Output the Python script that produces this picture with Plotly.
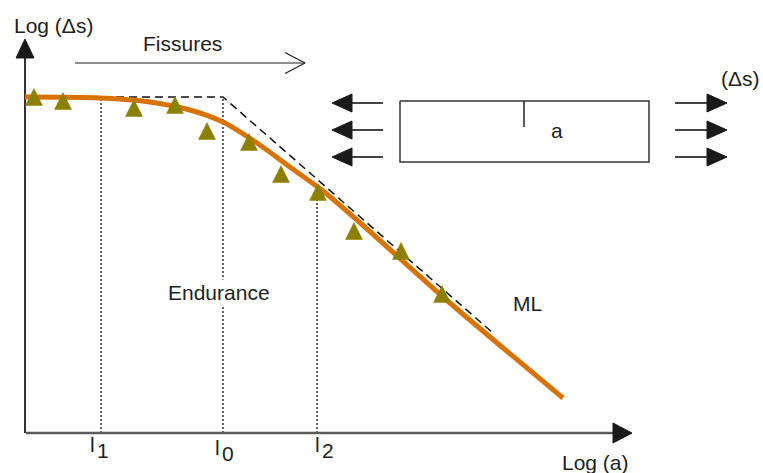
import plotly.graph_objects as go

# Measured points (log crack length, log stress range), arbitrary units
meas_x = [0.09, 0.38, 1.09, 1.50, 1.82, 2.24, 2.56, 2.93, 3.29, 3.76, 4.17]
meas_y = [3.36, 3.32, 3.25, 3.28, 3.02, 2.91, 2.59, 2.41, 2.02, 1.82, 1.39]

# Fitted curve through the data
fit_x = [0.00, 0.75, 1.25, 1.65, 1.98, 2.32, 2.65, 2.98, 3.32, 4.25, 5.38]
fit_y = [3.36, 3.35, 3.31, 3.23, 3.11, 2.90, 2.66, 2.42, 2.13, 1.30, 0.35]

# Asymptotes: endurance plateau and LEFM (ML) line
asym_x = [0.00, 1.98, 4.68]
asym_y = [3.36, 3.36, 1.00]

# Characteristic lengths l1, l0, l2 and the height of their guide lines
l_names = ["1", "0", "2"]
l_pos = [0.76, 1.98, 2.92]
l_top = [3.36, 3.36, 2.41]

X_RANGE = [-0.25, 7.38]
Y_RANGE = [-0.40, 4.33]

INK = "#231f20"
ORANGE = "#d87300"
OLIVE = "#8c8000"
FONT = "Liberation Sans, Arial, sans-serif"

fig = go.Figure()


def line(xs, ys, color=INK, width=1.5, dash=None):
    fig.add_trace(go.Scatter(x=xs, y=ys, mode="lines", hoverinfo="skip",
                             line=dict(color=color, width=width, dash=dash)))


def head(tip_x, tip_y, dx, dy, length=0.19, half=0.095, color="#1a1a1a"):
    """Filled arrowhead with its tip at (tip_x, tip_y) pointing along (dx, dy)."""
    bx, by = tip_x - dx * length, tip_y - dy * length
    px, py = -dy * half, dx * half
    fig.add_trace(go.Scatter(
        x=[tip_x, bx + px, bx - px, tip_x], y=[tip_y, by + py, by - py, tip_y],
        mode="lines", fill="toself", fillcolor=color, hoverinfo="skip",
        line=dict(color=color, width=1)))


# Guide lines for l1, l0, l2
for xp, top in zip(l_pos, l_top):
    line([xp, xp], [0, top], color="#333333", width=1.5, dash="2px,2px")

# Axes with arrowheads
line([0, 0], [0, 3.76], color="#333333", width=2)
head(0, 3.94, 0, 1, length=0.19, half=0.09)
line([0.01, 5.89], [0, 0], color="#5a5a5a", width=2.5)
head(6.07, 0, 1, 0, length=0.19, half=0.10)

# Asymptotes (dashed)
line(asym_x, asym_y, color="#111111", width=1.5, dash="8px,5px")

# Fitted curve
fig.add_trace(go.Scatter(x=fit_x, y=fit_y, mode="lines", hoverinfo="skip",
                         line=dict(color=ORANGE, width=5, shape="spline", smoothing=0.8)))

# Measured points as triangles
tw, th = 0.17, 0.17
tri_x, tri_y = [], []
for mx, my in zip(meas_x, meas_y):
    tri_x += [mx - tw / 2, mx + tw / 2, mx, mx - tw / 2, None]
    tri_y += [my - th / 2, my - th / 2, my + th / 2, my - th / 2, None]
fig.add_trace(go.Scatter(x=tri_x, y=tri_y, mode="lines", fill="toself",
                         fillcolor=OLIVE, hoverinfo="skip",
                         line=dict(color=OLIVE, width=0.5)))

# "Fissures" arrow (open head)
line([0.50, 2.80], [3.70, 3.70], color=INK, width=1.2)
line([2.60, 2.80, 2.60], [3.805, 3.70, 3.595], color=INK, width=1.2)

# Cracked plate under tension
line([3.75, 6.24, 6.24, 3.75, 3.75], [3.32, 3.32, 2.71, 2.71, 3.32], color="#333333", width=1.5)
line([4.99, 4.99], [3.32, 3.06], color=INK, width=1.5)
for ay in [3.30, 3.03, 2.76]:
    line([3.25, 3.58], [ay, ay], color="#444444", width=1.8)
    head(3.07, ay, -1, 0, length=0.20, half=0.09)
    line([6.50, 6.84], [ay, ay], color="#444444", width=1.8)
    head(7.02, ay, 1, 0, length=0.20, half=0.09)

# Text labels
annotations = [
    dict(x=0.28, y=4.08, text="Log (\u0394s)"),
    dict(x=1.57, y=3.90, text="Fissures"),
    dict(x=7.15, y=3.55, text="(\u0394s)"),
    dict(x=5.32, y=3.03, text="a"),
    dict(x=1.94, y=1.41, text="Endurance", bgcolor="white"),
    dict(x=5.02, y=1.30, text="ML"),
    dict(x=5.70, y=-0.29, text="Log (a)"),
]
l_label_x = [0.67, 1.92, 2.92]
l_label_y = [-0.11, -0.14, -0.11]
for name, lx, ly in zip(l_names, l_label_x, l_label_y):
    annotations.append(dict(x=lx, y=ly, text="l"))
    annotations.append(dict(x=lx + 0.11, y=ly - 0.065, text=name))

for a in annotations:
    fig.add_annotation(showarrow=False, xref="x", yref="y",
                       font=dict(family=FONT, size=21, color=INK), **a)

fig.update_layout(
    width=763, height=473,
    margin=dict(l=0, r=0, t=0, b=0),
    paper_bgcolor="white", plot_bgcolor="white",
    showlegend=False,
    xaxis=dict(range=X_RANGE, visible=False, fixedrange=True),
    yaxis=dict(range=Y_RANGE, visible=False, fixedrange=True),
)

fig.write_html("out.html", config={"displayModeBar": False})
